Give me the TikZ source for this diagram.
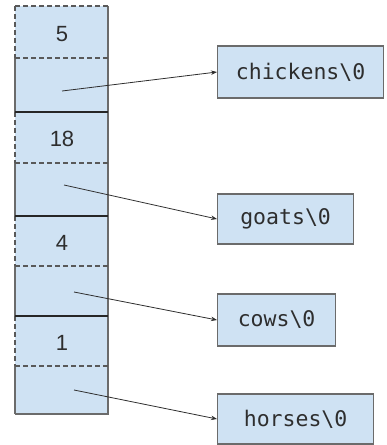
\documentclass[tikz,border=0pt]{standalone}
\usepackage{fontspec}
\setmainfont{Liberation Sans}
\newfontfamily\codefont{DejaVu Sans Mono}
\usetikzlibrary{arrows.meta}
\definecolor{cellblue}{HTML}{CFE2F3}
\definecolor{edgegrey}{HTML}{6B6B6B}
\definecolor{inkgrey}{HTML}{2E2E2E}
\tikzset{
  strbox/.style={draw=edgegrey, line width=1.2pt, fill=cellblue, anchor=west,
    minimum height=52pt, inner sep=0pt, font=\codefont\fontsize{21.5}{24}\selectfont,
    text=inkgrey},
  count/.style={font=\fontsize{22}{24}\selectfont, text=inkgrey},
  ptr/.style={draw=inkgrey, line width=0.8pt, -{Stealth[length=6pt,width=4.5pt]}},
  halfline/.style={draw=black!65, line width=1.1pt, dash pattern=on 5pt off 3pt},
  groupline/.style={draw=black!85, line width=2.2pt},
  sideline/.style={draw=edgegrey, line width=1.1pt}
}
\begin{document}
\begin{tikzpicture}[x=1pt,y=-1pt]
  \useasboundingbox (0,0) rectangle (387,445);
  % the array of structs: count above, pointer below
  \fill[cellblue] (15,6) rectangle (108,414);
  \draw[sideline] (108,6) -- (108,414) -- (15,414);
  \draw[halfline] (15,6) -- (108,6);
  % left edge: dashed beside each count, solid beside each pointer
  \foreach \a/\b in {6/58,112/163,216/266,316/366} \draw[halfline] (15,\a) -- (15,\b);
  \foreach \a/\b in {58/112,163/216,266/316,366/414} \draw[sideline] (15,\a) -- (15,\b);
  \foreach \y in {58,163,266,366} \draw[halfline] (15,\y) -- (108,\y);
  \foreach \y in {112,216,316} \draw[groupline] (15,\y) -- (108,\y);
  \node[count] (n1) at (62,34) {5};
  \node[count] (n2) at (62,139) {18};
  \node[count] (n3) at (62,243) {4};
  \node[count] (n4) at (62,343) {1};
  % pointer origins inside the lower half of each struct
  \coordinate (p1) at (62,91);
  \coordinate (p2) at (64,185);
  \coordinate (p3) at (74,292);
  \coordinate (p4) at (74,390);
  % the strings
  \node[strbox, minimum width=166pt] (s1) at (217,72) {chickens\textbackslash0};
  \node[strbox, minimum width=136pt, minimum height=50pt] (s2) at (217,219) {goats\textbackslash0};
  \node[strbox, minimum width=118pt] (s3) at (217,320) {cows\textbackslash0};
  \node[strbox, minimum width=156pt, minimum height=50pt] (s4) at (217,419) {horses\textbackslash0};
  \draw[ptr] (p1) -- (s1.west);
  \draw[ptr] (p2) -- (s2.west);
  \draw[ptr] (p3) -- (s3.west);
  \draw[ptr] (p4) -- (s4.west);
\end{tikzpicture}
\end{document}
